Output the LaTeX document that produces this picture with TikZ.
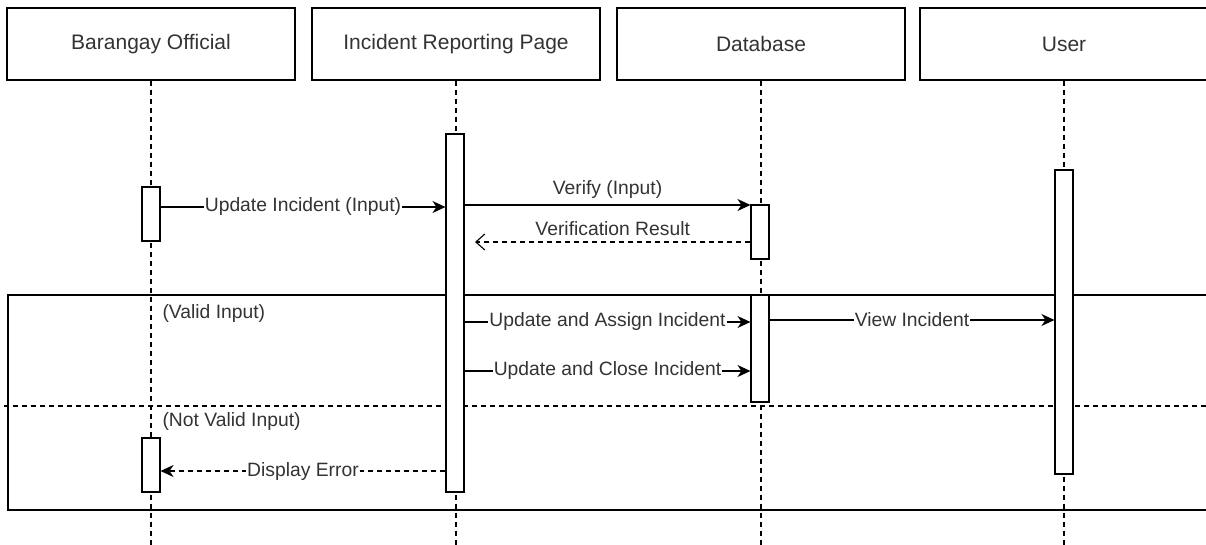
\documentclass[tikz,border=0pt]{standalone}
\usepackage{fontspec}
\setmainfont{Liberation Sans}
\usetikzlibrary{arrows.meta}
\begin{document}
\begin{tikzpicture}[x=1pt,y=-1pt,
  line width=1.1pt,
  every node/.style={text=black!80},
  head/.style={draw=black, minimum width=288pt, minimum height=72pt, font=\fontsize{21}{25}\selectfont, inner sep=0pt},
  act/.style={draw=black, fill=white, minimum width=18pt, inner sep=0pt},
  life/.style={draw=black, dash pattern=on 5pt off 4pt},
  msg/.style={draw=black, -{Stealth[length=13pt,width=12pt,inset=4pt]}},
  retmsg/.style={draw=black, dash pattern=on 5pt off 4pt, -{Stealth[length=13pt,width=12pt,inset=4pt]}},
  openret/.style={draw=black, dash pattern=on 5pt off 4pt, -{Straight Barb[length=9pt,width=16pt]}},
  lbl/.style={fill=white, inner sep=1pt, font=\fontsize{19.3}{23}\selectfont},
  lblabove/.style={inner sep=1pt, font=\fontsize{19.3}{23}\selectfont, above=5pt},
  guard/.style={anchor=west, inner sep=0pt, font=\fontsize{19.3}{23}\selectfont}
]
\useasboundingbox (0,0) rectangle (1206,544);
\clip (0,0) rectangle (1206,544);
% headers
\node[head] (hb) at (151,44) {Barangay Official};
\node[head] (hi) at (456,44) {Incident Reporting Page};
\node[head] (hd) at (761,44) {Database};
\node[head] (hu) at (1064,44) {User};
% lifeline ends
\coordinate (eb) at (151,548);
\coordinate (ei) at (456,548);
\coordinate (ed) at (761,548);
\coordinate (eu) at (1064,548);
\draw[life] (hb.south) -- (eb);
\draw[life] (hi.south) -- (ei);
\draw[life] (hd.south) -- (ed);
\draw[life] (hu.south) -- (eu);
% combined fragment frame
\draw[draw=black] (8,295) rectangle (1215,510);
\draw[draw=black, dash pattern=on 5pt off 4pt] (4,406) -- (1215,406);
% activation bars
\node[act, minimum height=54pt] (b1) at (151,214) {};
\node[act, minimum height=54pt] (b2) at (151,465) {};
\node[act, minimum height=358pt] (p1) at (455,313) {};
\node[act, minimum height=54pt] (d1) at (760,232) {};
\node[act, minimum height=107pt] (d2) at (760,348.5) {};
\node[act, minimum height=304pt] (u1) at (1064,322) {};
% guards
\node[guard] (g1) at (162,314) {(Valid Input)};
\node[guard] (g2) at (162,422) {(Not Valid Input)};
% message rows
\coordinate (r1) at (0,207);
\coordinate (r2) at (0,205);
\coordinate (r3) at (0,242);
\coordinate (r4) at (0,322);
\coordinate (r5) at (0,320);
\coordinate (r6) at (0,371);
\coordinate (r7) at (0,471);
\coordinate (vrend) at (475,242);
\draw[msg] (b1.east |- r1) -- node[lbl] {Update Incident (Input)} (p1.west |- r1);
\draw[msg] (p1.east |- r2) -- node[lblabove] {Verify (Input)} (d1.west |- r2);
\draw[openret] (d1.west |- r3) -- node[lblabove] {Verification Result} (vrend);
\draw[msg] (p1.east |- r4) -- node[lbl] {Update and Assign Incident} (d2.west |- r4);
\draw[msg] (d2.east |- r5) -- node[lbl] {View Incident} (u1.west |- r5);
\draw[msg] (p1.east |- r6) -- node[lbl] {Update and Close Incident} (d2.west |- r6);
\draw[retmsg] (p1.west |- r7) -- node[lbl] {Display Error} (b2.east |- r7);
\end{tikzpicture}
\end{document}
